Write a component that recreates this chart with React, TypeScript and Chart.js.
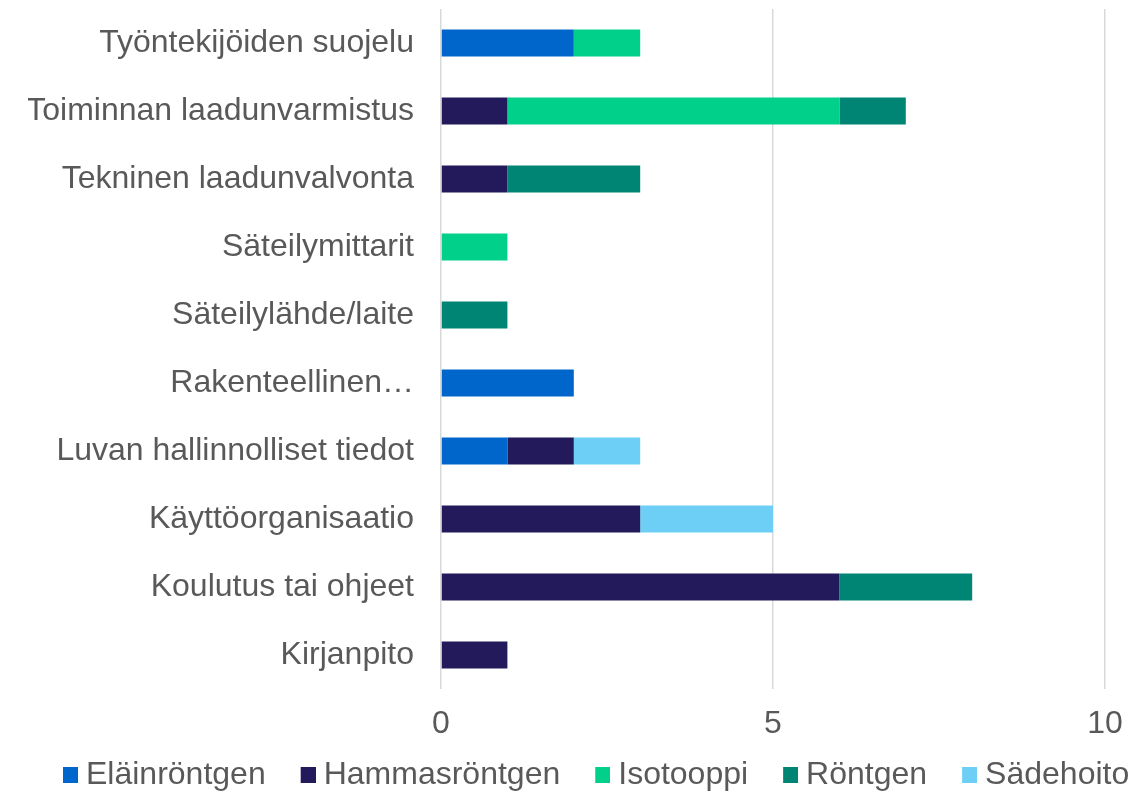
import React, { useEffect, useRef } from "react";
import { Chart, registerables } from "chart.js";

Chart.register(...registerables);

const categories = [
  "Työntekijöiden suojelu",
  "Toiminnan laadunvarmistus",
  "Tekninen laadunvalvonta",
  "Säteilymittarit",
  "Säteilylähde/laite",
  "Rakenteellinen…",
  "Luvan hallinnolliset tiedot",
  "Käyttöorganisaatio",
  "Koulutus tai ohjeet",
  "Kirjanpito",
];

const seriesNames = ["Eläinröntgen", "Hammasröntgen", "Isotooppi", "Röntgen", "Sädehoito"];

const elainrontgen = [2, 0, 0, 0, 0, 2, 1, 0, 0, 0];
const hammasrontgen = [0, 1, 1, 0, 0, 0, 1, 3, 6, 1];
const isotooppi = [1, 5, 0, 1, 0, 0, 0, 0, 0, 0];
const rontgen = [0, 1, 2, 0, 1, 0, 0, 0, 2, 0];
const sadehoito = [0, 0, 0, 0, 0, 0, 1, 2, 0, 0];

const seriesValues = [elainrontgen, hammasrontgen, isotooppi, rontgen, sadehoito];
const seriesColors = ["#0066CC", "#231A5C", "#00D08A", "#008574", "#6DCFF6"];

const xMin = 0;
const xMax = 10;
const xStep = 5;

const FONT = "'Liberation Sans', Arial, sans-serif";
const TEXT_COLOR = "#595959";

function makeSwatch(color: string): HTMLCanvasElement {
  const c = document.createElement("canvas");
  c.width = 58;
  c.height = 16;
  const g = c.getContext("2d")!;
  g.fillStyle = color;
  g.fillRect(43, 0, 15, 16);
  return c;
}

export default function App() {
  const ref = useRef<HTMLCanvasElement | null>(null);

  useEffect(() => {
    document.body.style.margin = "0";
    const canvas = ref.current;
    if (!canvas) return;
    const chart = new Chart(canvas, {
      type: "bar",
      data: {
        labels: categories,
        datasets: seriesNames.map((name, i) => ({
          label: name,
          data: seriesValues[i],
          backgroundColor: seriesColors[i],
          borderWidth: 0,
          barPercentage: 0.4,
          categoryPercentage: 1.0,
        })),
      },
      options: {
        indexAxis: "y",
        responsive: false,
        animation: false,
        events: [],
        layout: { padding: { left: 28, right: 0, top: 9, bottom: -8 } },
        scales: {
          x: {
            stacked: true,
            min: xMin,
            max: xMax,
            ticks: {
              stepSize: xStep,
              color: TEXT_COLOR,
              font: { family: FONT, size: 32 },
              padding: 16,
            },
            grid: { color: "#d9d9d9", lineWidth: 1.5, drawTicks: false },
            border: { display: false },
            afterFit: (s: any) => {
              s.paddingRight = 40;
              s.height = 70;
            },
          },
          y: {
            stacked: true,
            ticks: {
              color: TEXT_COLOR,
              font: { family: FONT, size: 32 },
              padding: 27,
            },
            grid: { display: false, drawTicks: false },
            border: { display: false },
            afterFit: (s: any) => {
              s.width = 413;
              s.paddingTop = 0;
              s.paddingBottom = 0;
            },
          },
        },
        plugins: {
          tooltip: { enabled: false },
          legend: {
            position: "bottom",
            align: "start",
            labels: {
              usePointStyle: true,
              pointStyleWidth: 42,
              padding: 0,
              color: TEXT_COLOR,
              font: { family: FONT, size: 32 },
              generateLabels: () =>
                seriesNames.map((name, i) => ({
                  text: name,
                  fillStyle: seriesColors[i],
                  strokeStyle: seriesColors[i],
                  lineWidth: 0,
                  pointStyle: makeSwatch(seriesColors[i]) as any,
                  fontColor: TEXT_COLOR,
                  hidden: false,
                  datasetIndex: i,
                })),
            },
          },
        },
      },
    });
    return () => chart.destroy();
  }, []);

  return (
    <div style={{ width: 1145, height: 793 }}>
      <canvas ref={ref} width={1145} height={793} />
    </div>
  );
}
